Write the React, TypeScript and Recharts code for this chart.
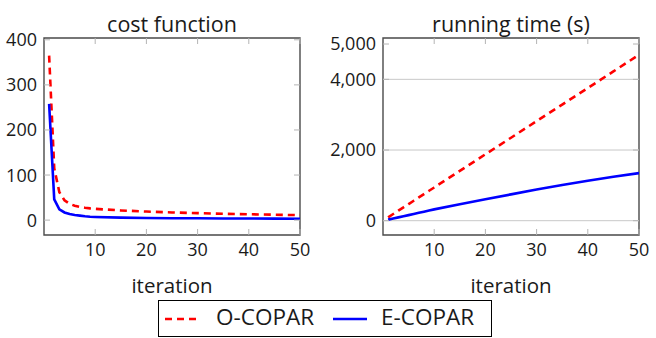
import React from 'react';
import { LineChart, Line, XAxis, YAxis, ReferenceArea, ReferenceLine } from 'recharts';

const FONT = '"Open Sans", sans-serif';

const iterations = [1, 2, 3, 4, 5, 6, 7, 8, 9, 10, 15, 20, 25, 30, 35, 40, 45, 50];
const oCoparCost = [365, 115, 62, 44, 36, 32, 29.5, 27.5, 26, 25, 21.5, 19, 17, 15.5, 14, 13, 12, 11];
const eCoparCost = [258, 46, 24, 17, 13.5, 11.5, 10, 8.5, 7.5, 7, 5.5, 4.8, 4.3, 4, 3.7, 3.5, 3.3, 3];
const oCoparTime = [96, 190, 284, 378, 471, 565, 659, 753, 847, 940, 1410, 1879, 2348, 2817, 3286, 3755, 4225, 4694];
const eCoparTime = [30, 62, 94, 126, 158, 190, 222, 254, 287, 320, 463, 605, 745, 880, 1008, 1130, 1242, 1345];

const xTicks = [10, 20, 30, 40, 50];
const costTicks = [0, 100, 200, 300, 400];
const timeTicks = [0, 2000, 4000, 5000];
const timeGrid = [0, 2000, 4000];

const costData = iterations.map((it, i) => ({ iteration: it, o: oCoparCost[i], e: eCoparCost[i] }));
const timeData = iterations.map((it, i) => ({ iteration: it, o: oCoparTime[i], e: eCoparTime[i] }));

const PLOT_W = 256;
const PLOT_H = 197;
const TICK = 6;
const TICK_COLOR = '#b4b4b4';

const YTick = (props: any) => {
  const { x, y, payload } = props;
  const left = x + 7;
  const right = left + PLOT_W;
  return (
    <g>
      <line x1={left} x2={left + TICK} y1={y} y2={y} stroke={TICK_COLOR} />
      <line x1={right} x2={right - TICK} y1={y} y2={y} stroke={TICK_COLOR} />
      <text x={x} y={y} dy="0.36em" textAnchor="end" fontSize={18} fill="#1a1a1a" fontFamily={FONT}>
        {payload.value.toLocaleString('en-US')}
      </text>
    </g>
  );
};

const XTick = (props: any) => {
  const { x, y, payload } = props;
  const bottom = y - 8;
  const top = bottom - PLOT_H;
  return (
    <g>
      <line x1={x} x2={x} y1={bottom} y2={bottom - TICK} stroke={TICK_COLOR} />
      <line x1={x} x2={x} y1={top} y2={top + TICK} stroke={TICK_COLOR} />
      <text x={x} y={y} dy="0.72em" textAnchor="middle" fontSize={18} fill="#1a1a1a" fontFamily={FONT}>
        {payload.value}
      </text>
    </g>
  );
};

const Panel = ({ data, yDomain, yTicks, yWidth, grid }: any) => (
  <LineChart
    width={yWidth + PLOT_W + 20}
    height={300}
    data={data}
    margin={{ top: 38, right: 20, left: 0, bottom: 0 }}
  >
    <XAxis
      dataKey="iteration"
      type="number"
      domain={[0, 50]}
      ticks={xTicks}
      height={65}
      axisLine={false}
      tickLine={false}
      tickSize={0}
      tickMargin={8}
      tick={<XTick />}
      allowDataOverflow
    />
    <YAxis
      type="number"
      domain={yDomain}
      ticks={yTicks}
      width={yWidth}
      axisLine={false}
      tickLine={false}
      tickSize={0}
      tickMargin={7}
      tick={<YTick />}
      allowDataOverflow
    />
    {grid.map((v: number) => (
      <ReferenceLine key={v} y={v} stroke="#c8c8c8" strokeWidth={1} />
    ))}
    <Line type="linear" dataKey="o" stroke="#ff0000" strokeWidth={2.6} strokeDasharray="7 5" dot={false} isAnimationActive={false} />
    <Line type="linear" dataKey="e" stroke="#0000ff" strokeWidth={2.6} dot={false} isAnimationActive={false} />
    <ReferenceArea x1={0} x2={50} y1={yDomain[0]} y2={yDomain[1]} fill="none" stroke="#4a4a4a" strokeWidth={1.4} />
  </LineChart>
);

export default function App() {
  return (
    <div style={{ position: 'absolute', left: 0, top: 0, width: 656, height: 338, background: '#fff', fontFamily: FONT }}>
      <div style={{ position: 'absolute', left: 0, top: 0 }}>
        <Panel data={costData} yDomain={[-33, 404]} yTicks={costTicks} yWidth={44} grid={[]} />
      </div>
      <div style={{ position: 'absolute', left: 320, top: 0 }}>
        <Panel data={timeData} yDomain={[-405, 5170]} yTicks={timeTicks} yWidth={63} grid={timeGrid} />
      </div>
      <svg width={656} height={338} style={{ position: 'absolute', left: 0, top: 0, pointerEvents: 'none' }}>
        <g fontFamily={FONT} fill="#1a1a1a">
          <text x={172} y={32} textAnchor="middle" fontSize={21.5}>cost function</text>
          <text x={511} y={32} textAnchor="middle" fontSize={21.5}>running time (s)</text>
          <text x={172} y={293} textAnchor="middle" fontSize={20.5}>iteration</text>
          <text x={511} y={293} textAnchor="middle" fontSize={20.5}>iteration</text>
        </g>
        <rect x={158.5} y={300.5} width={333} height={36} fill="#fff" stroke="#000" strokeWidth={1} />
        <line x1={165} x2={197} y1={319} y2={319} stroke="#ff0000" strokeWidth={2.6} strokeDasharray="7 5" />
        <text x={216} y={324.5} fontSize={22.5} fontFamily={FONT} fill="#1a1a1a">O-COPAR</text>
        <line x1={333} x2={367} y1={319} y2={319} stroke="#0000ff" strokeWidth={2.6} />
        <text x={381} y={324.5} fontSize={22.5} fontFamily={FONT} fill="#1a1a1a">E-COPAR</text>
      </svg>
    </div>
  );
}
